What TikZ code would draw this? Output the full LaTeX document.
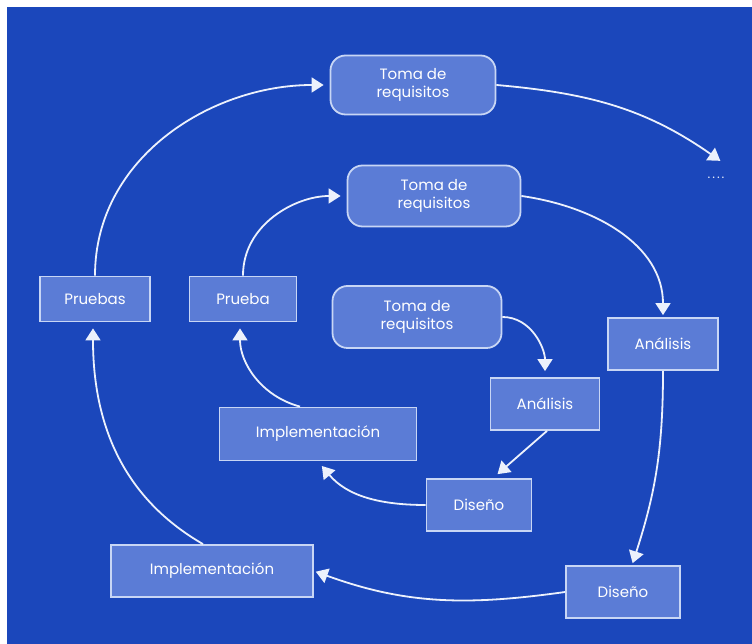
\documentclass[tikz,border=0pt]{standalone}
\usepackage{fontspec}
\setmainfont{Poppins}
\usetikzlibrary{arrows.meta}
\definecolor{fondo}{RGB}{27,71,187}
\definecolor{caja}{RGB}{91,124,214}
\definecolor{borde}{RGB}{200,214,245}
\definecolor{flecha}{RGB}{236,241,252}
\begin{document}
\begin{tikzpicture}[x=1pt,y=1pt,
		fase/.style={draw=borde,line width=1.8pt,fill=caja,text=white,align=center,inner sep=0pt,
			font=\fontsize{15}{18}\selectfont},
		toma/.style={fase,rounded corners=15pt},
		flujo/.style={draw=flecha,line width=1.8pt,shorten >=6pt,-{Triangle[width=15pt,length=12pt]}}]
			\useasboundingbox (0,0) rectangle (752,644);
			\fill[fondo] (7,0) rectangle (752,637);
			\node[toma,minimum width=165,minimum height=59] (T1) at (413,559) {Toma de\\requisitos};
			\node[toma,minimum width=173,minimum height=61] (T2) at (434,448) {Toma de\\requisitos};
			\node[toma,minimum width=169,minimum height=62] (T3) at (417,327) {Toma de\\requisitos};
			\node[fase,minimum width=110,minimum height=45] (P1) at (95,345) {Pruebas};
			\node[fase,minimum width=107,minimum height=45] (P2) at (243,345) {Prueba};
			\node[fase,minimum width=110,minimum height=52] (A1) at (663,300) {Análisis};
			\node[fase,minimum width=109,minimum height=52] (A2) at (545,240) {Análisis};
			\node[fase,minimum width=197,minimum height=53] (I2) at (318,210) {Implementación};
			\node[fase,minimum width=105,minimum height=52] (D2) at (479,139) {Diseño};
			\node[fase,minimum width=202,minimum height=52] (I1) at (212,73) {Implementación};
			\node[fase,minimum width=114,minimum height=52] (D1) at (623,52) {Diseño};
			\node[text=flecha,font=\fontsize{13}{16}\selectfont] (sig) at (716,466) {.\kern2pt.\kern2pt.\kern2pt.};
			\coordinate (fin) at (722,482);
			% ciclo exterior
			\draw[flujo] (P1.north) to[out=90,in=180] (T1.west);
			\draw[flujo,shorten >=2pt] (T1.east) to[out=-5,in=145] (fin);
			\draw[flujo,shorten >=2pt] (A1.south) to[out=-90,in=72] ([xshift=9pt]D1.north);
			\draw[flujo,shorten >=2pt] (D1.west) to[out=188,in=-20] (I1.east);
			\draw[flujo] ([xshift=-9pt]I1.north) to[out=150,in=-90] ([xshift=-2pt]P1.south);
			% ciclo medio
			\draw[flujo] (P2.north) to[out=90,in=180] (T2.west);
			\draw[flujo,shorten >=2pt] (T2.east) to[out=-8,in=90] (A1.north);
			\draw[flujo] (D2.west) to[out=180,in=-50] (I2.south);
			\draw[flujo] ([xshift=-18pt]I2.north) to[out=165,in=-90] ([xshift=-3pt]P2.south);
			% ciclo interior
			\draw[flujo] (T3.east) to[out=0,in=90] (A2.north);
			\draw[flujo] ([xshift=2pt]A2.south) -- ([xshift=14pt]D2.north);
		\end{tikzpicture}
\end{document}
